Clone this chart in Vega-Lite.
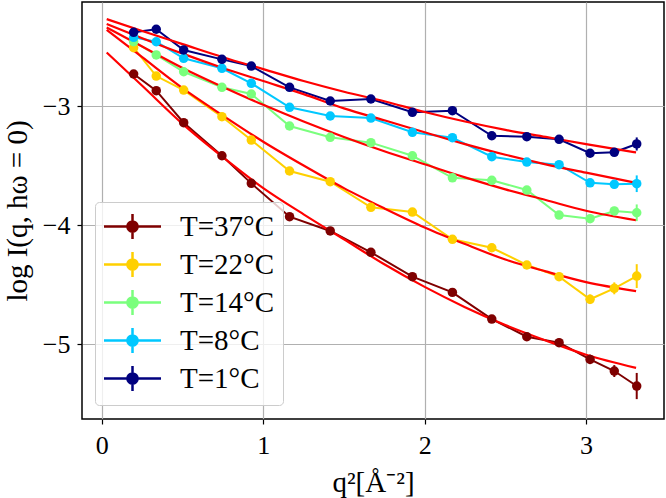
{
  "$schema": "https://vega.github.io/schema/vega-lite/v6.json",
  "width": 582,
  "height": 417,
  "autosize": "none",
  "padding": {"left": 82, "top": 2, "right": 2, "bottom": 79},
  "config": {
    "font": "Liberation Serif",
    "view": {"stroke": "black", "strokeWidth": 1.5},
    "axis": {
      "grid": true, "gridColor": "#b0b0b0", "gridWidth": 1.2, "domain": false,
      "tickColor": "black", "tickSize": 5, "tickWidth": 1.2,
      "labelFont": "Liberation Serif", "labelFontSize": 26, "labelColor": "black",
      "titleFont": "Liberation Serif", "titleFontSize": 29, "titleFontWeight": "normal", "titleColor": "black"
    },
    "legend": {
      "orient": "none", "legendX": 13, "legendY": 200,
      "fillColor": "rgba(255,255,255,0.8)", "strokeColor": "#cccccc", "cornerRadius": 4,
      "padding": 8, "labelFont": "Liberation Serif", "labelFontSize": 29, "labelColor": "black",
      "labelOffset": 31, "rowPadding": 1, "title": null,
      "symbolType": "M-1.9,0H1.9M0,-0.84V0.84M0.34,0A0.34,0.34,0,1,1,-0.34,0A0.34,0.34,0,1,1,0.34,0Z",
      "symbolSize": 900, "symbolStrokeWidth": 2, "symbolOffset": 13
    }
  },
  "datasets": {
    "obs": [
      {"T": "T=37°C", "q2": 0.197, "v": -2.731, "err": 0.015},
      {"T": "T=37°C", "q2": 0.337, "v": -2.871, "err": 0.015},
      {"T": "T=37°C", "q2": 0.507, "v": -3.140, "err": 0.015},
      {"T": "T=37°C", "q2": 0.744, "v": -3.418, "err": 0.015},
      {"T": "T=37°C", "q2": 0.926, "v": -3.650, "err": 0.02},
      {"T": "T=37°C", "q2": 1.163, "v": -3.930, "err": 0.02},
      {"T": "T=37°C", "q2": 1.415, "v": -4.050, "err": 0.02},
      {"T": "T=37°C", "q2": 1.667, "v": -4.229, "err": 0.02},
      {"T": "T=37°C", "q2": 1.924, "v": -4.434, "err": 0.025},
      {"T": "T=37°C", "q2": 2.172, "v": -4.566, "err": 0.025},
      {"T": "T=37°C", "q2": 2.416, "v": -4.790, "err": 0.03},
      {"T": "T=37°C", "q2": 2.633, "v": -4.939, "err": 0.03},
      {"T": "T=37°C", "q2": 2.833, "v": -4.989, "err": 0.035},
      {"T": "T=37°C", "q2": 3.025, "v": -5.129, "err": 0.04},
      {"T": "T=37°C", "q2": 3.175, "v": -5.227, "err": 0.05},
      {"T": "T=37°C", "q2": 3.314, "v": -5.353, "err": 0.11},
      {"T": "T=22°C", "q2": 0.197, "v": -2.510, "err": 0.015},
      {"T": "T=22°C", "q2": 0.337, "v": -2.748, "err": 0.015},
      {"T": "T=22°C", "q2": 0.507, "v": -2.866, "err": 0.015},
      {"T": "T=22°C", "q2": 0.744, "v": -3.090, "err": 0.015},
      {"T": "T=22°C", "q2": 0.926, "v": -3.286, "err": 0.02},
      {"T": "T=22°C", "q2": 1.163, "v": -3.546, "err": 0.02},
      {"T": "T=22°C", "q2": 1.415, "v": -3.636, "err": 0.02},
      {"T": "T=22°C", "q2": 1.667, "v": -3.851, "err": 0.02},
      {"T": "T=22°C", "q2": 1.924, "v": -3.891, "err": 0.025},
      {"T": "T=22°C", "q2": 2.172, "v": -4.120, "err": 0.025},
      {"T": "T=22°C", "q2": 2.416, "v": -4.191, "err": 0.03},
      {"T": "T=22°C", "q2": 2.633, "v": -4.336, "err": 0.03},
      {"T": "T=22°C", "q2": 2.833, "v": -4.434, "err": 0.035},
      {"T": "T=22°C", "q2": 3.025, "v": -4.624, "err": 0.04},
      {"T": "T=22°C", "q2": 3.175, "v": -4.532, "err": 0.05},
      {"T": "T=22°C", "q2": 3.314, "v": -4.429, "err": 0.10},
      {"T": "T=14°C", "q2": 0.197, "v": -2.460, "err": 0.015},
      {"T": "T=14°C", "q2": 0.337, "v": -2.571, "err": 0.015},
      {"T": "T=14°C", "q2": 0.507, "v": -2.712, "err": 0.015},
      {"T": "T=14°C", "q2": 0.744, "v": -2.843, "err": 0.015},
      {"T": "T=14°C", "q2": 0.926, "v": -2.899, "err": 0.02},
      {"T": "T=14°C", "q2": 1.163, "v": -3.168, "err": 0.02},
      {"T": "T=14°C", "q2": 1.415, "v": -3.263, "err": 0.02},
      {"T": "T=14°C", "q2": 1.667, "v": -3.308, "err": 0.02},
      {"T": "T=14°C", "q2": 1.924, "v": -3.418, "err": 0.025},
      {"T": "T=14°C", "q2": 2.172, "v": -3.603, "err": 0.025},
      {"T": "T=14°C", "q2": 2.416, "v": -3.624, "err": 0.03},
      {"T": "T=14°C", "q2": 2.633, "v": -3.706, "err": 0.03},
      {"T": "T=14°C", "q2": 2.833, "v": -3.916, "err": 0.03},
      {"T": "T=14°C", "q2": 3.025, "v": -3.947, "err": 0.03},
      {"T": "T=14°C", "q2": 3.175, "v": -3.882, "err": 0.035},
      {"T": "T=14°C", "q2": 3.314, "v": -3.897, "err": 0.07},
      {"T": "T=8°C", "q2": 0.197, "v": -2.423, "err": 0.015},
      {"T": "T=8°C", "q2": 0.337, "v": -2.460, "err": 0.015},
      {"T": "T=8°C", "q2": 0.507, "v": -2.599, "err": 0.015},
      {"T": "T=8°C", "q2": 0.744, "v": -2.683, "err": 0.015},
      {"T": "T=8°C", "q2": 0.926, "v": -2.809, "err": 0.02},
      {"T": "T=8°C", "q2": 1.163, "v": -3.011, "err": 0.02},
      {"T": "T=8°C", "q2": 1.415, "v": -3.084, "err": 0.02},
      {"T": "T=8°C", "q2": 1.667, "v": -3.101, "err": 0.02},
      {"T": "T=8°C", "q2": 1.924, "v": -3.221, "err": 0.025},
      {"T": "T=8°C", "q2": 2.172, "v": -3.266, "err": 0.025},
      {"T": "T=8°C", "q2": 2.416, "v": -3.426, "err": 0.03},
      {"T": "T=8°C", "q2": 2.633, "v": -3.471, "err": 0.03},
      {"T": "T=8°C", "q2": 2.833, "v": -3.493, "err": 0.03},
      {"T": "T=8°C", "q2": 3.025, "v": -3.645, "err": 0.03},
      {"T": "T=8°C", "q2": 3.175, "v": -3.658, "err": 0.035},
      {"T": "T=8°C", "q2": 3.314, "v": -3.653, "err": 0.07},
      {"T": "T=1°C", "q2": 0.197, "v": -2.381, "err": 0.015},
      {"T": "T=1°C", "q2": 0.337, "v": -2.355, "err": 0.015},
      {"T": "T=1°C", "q2": 0.507, "v": -2.529, "err": 0.015},
      {"T": "T=1°C", "q2": 0.744, "v": -2.608, "err": 0.015},
      {"T": "T=1°C", "q2": 0.926, "v": -2.664, "err": 0.02},
      {"T": "T=1°C", "q2": 1.163, "v": -2.843, "err": 0.02},
      {"T": "T=1°C", "q2": 1.415, "v": -2.958, "err": 0.02},
      {"T": "T=1°C", "q2": 1.667, "v": -2.941, "err": 0.02},
      {"T": "T=1°C", "q2": 1.924, "v": -3.053, "err": 0.025},
      {"T": "T=1°C", "q2": 2.172, "v": -3.039, "err": 0.025},
      {"T": "T=1°C", "q2": 2.416, "v": -3.250, "err": 0.03},
      {"T": "T=1°C", "q2": 2.633, "v": -3.258, "err": 0.03},
      {"T": "T=1°C", "q2": 2.833, "v": -3.280, "err": 0.03},
      {"T": "T=1°C", "q2": 3.025, "v": -3.397, "err": 0.03},
      {"T": "T=1°C", "q2": 3.175, "v": -3.389, "err": 0.03},
      {"T": "T=1°C", "q2": 3.314, "v": -3.319, "err": 0.055}
    ],
    "fit": [
      {"T": "T=37°C", "q2": 0.03, "v": -2.55}, {"T": "T=37°C", "q2": 0.25, "v": -2.83},
      {"T": "T=37°C", "q2": 0.5, "v": -3.15}, {"T": "T=37°C", "q2": 0.75, "v": -3.43},
      {"T": "T=37°C", "q2": 1.0, "v": -3.69}, {"T": "T=37°C", "q2": 1.25, "v": -3.91},
      {"T": "T=37°C", "q2": 1.5, "v": -4.12}, {"T": "T=37°C", "q2": 1.75, "v": -4.33},
      {"T": "T=37°C", "q2": 2.0, "v": -4.52}, {"T": "T=37°C", "q2": 2.25, "v": -4.69},
      {"T": "T=37°C", "q2": 2.5, "v": -4.84}, {"T": "T=37°C", "q2": 2.75, "v": -4.97},
      {"T": "T=37°C", "q2": 3.0, "v": -5.09}, {"T": "T=37°C", "q2": 3.31, "v": -5.20},
      {"T": "T=22°C", "q2": 0.03, "v": -2.36}, {"T": "T=22°C", "q2": 0.25, "v": -2.59},
      {"T": "T=22°C", "q2": 0.5, "v": -2.85}, {"T": "T=22°C", "q2": 0.75, "v": -3.08},
      {"T": "T=22°C", "q2": 1.0, "v": -3.30}, {"T": "T=22°C", "q2": 1.25, "v": -3.50},
      {"T": "T=22°C", "q2": 1.5, "v": -3.69}, {"T": "T=22°C", "q2": 1.75, "v": -3.86},
      {"T": "T=22°C", "q2": 2.0, "v": -4.02}, {"T": "T=22°C", "q2": 2.25, "v": -4.16},
      {"T": "T=22°C", "q2": 2.5, "v": -4.29}, {"T": "T=22°C", "q2": 2.75, "v": -4.39},
      {"T": "T=22°C", "q2": 3.0, "v": -4.48}, {"T": "T=22°C", "q2": 3.31, "v": -4.555},
      {"T": "T=14°C", "q2": 0.03, "v": -2.34}, {"T": "T=14°C", "q2": 0.25, "v": -2.50},
      {"T": "T=14°C", "q2": 0.5, "v": -2.68}, {"T": "T=14°C", "q2": 0.75, "v": -2.84},
      {"T": "T=14°C", "q2": 1.0, "v": -2.99}, {"T": "T=14°C", "q2": 1.25, "v": -3.13},
      {"T": "T=14°C", "q2": 1.5, "v": -3.26}, {"T": "T=14°C", "q2": 1.75, "v": -3.38},
      {"T": "T=14°C", "q2": 2.0, "v": -3.49}, {"T": "T=14°C", "q2": 2.25, "v": -3.60},
      {"T": "T=14°C", "q2": 2.5, "v": -3.70}, {"T": "T=14°C", "q2": 2.75, "v": -3.79},
      {"T": "T=14°C", "q2": 3.0, "v": -3.88}, {"T": "T=14°C", "q2": 3.31, "v": -3.96},
      {"T": "T=8°C", "q2": 0.03, "v": -2.31}, {"T": "T=8°C", "q2": 0.25, "v": -2.43},
      {"T": "T=8°C", "q2": 0.5, "v": -2.56}, {"T": "T=8°C", "q2": 0.75, "v": -2.68},
      {"T": "T=8°C", "q2": 1.0, "v": -2.79}, {"T": "T=8°C", "q2": 1.25, "v": -2.90},
      {"T": "T=8°C", "q2": 1.5, "v": -3.02}, {"T": "T=8°C", "q2": 1.75, "v": -3.12},
      {"T": "T=8°C", "q2": 2.0, "v": -3.22}, {"T": "T=8°C", "q2": 2.25, "v": -3.32},
      {"T": "T=8°C", "q2": 2.5, "v": -3.41}, {"T": "T=8°C", "q2": 2.75, "v": -3.49},
      {"T": "T=8°C", "q2": 3.0, "v": -3.56}, {"T": "T=8°C", "q2": 3.31, "v": -3.645},
      {"T": "T=1°C", "q2": 0.03, "v": -2.27}, {"T": "T=1°C", "q2": 0.25, "v": -2.37},
      {"T": "T=1°C", "q2": 0.5, "v": -2.48}, {"T": "T=1°C", "q2": 0.75, "v": -2.59},
      {"T": "T=1°C", "q2": 1.0, "v": -2.69}, {"T": "T=1°C", "q2": 1.25, "v": -2.79},
      {"T": "T=1°C", "q2": 1.5, "v": -2.88}, {"T": "T=1°C", "q2": 1.75, "v": -2.96},
      {"T": "T=1°C", "q2": 2.0, "v": -3.05}, {"T": "T=1°C", "q2": 2.25, "v": -3.13},
      {"T": "T=1°C", "q2": 2.5, "v": -3.20}, {"T": "T=1°C", "q2": 2.75, "v": -3.26},
      {"T": "T=1°C", "q2": 3.0, "v": -3.32}, {"T": "T=1°C", "q2": 3.31, "v": -3.39}
    ]
  },
  "encoding": {
    "x": {"field": "q2", "type": "quantitative",
      "scale": {"domain": [-0.123, 3.483], "nice": false, "zero": false},
      "axis": {"values": [0, 1, 2, 3], "title": "q²[Å⁻²]", "labelPadding": 8, "titlePadding": 10}},
    "y": {"field": "v", "type": "quantitative",
      "scale": {"domain": [-5.63, -2.126], "nice": false, "zero": false},
      "axis": {"values": [-5, -4, -3], "title": "log I(q, hω = 0)", "labelPadding": 7, "titlePadding": 10}}
  },
  "layer": [
    {
      "data": {"name": "obs"},
      "mark": {"type": "line", "strokeWidth": 2},
      "encoding": {
        "color": {"field": "T", "type": "nominal",
          "scale": {"domain": ["T=37°C", "T=22°C", "T=14°C", "T=8°C", "T=1°C"],
                    "range": ["#7f0000", "#ffd000", "#7aff7d", "#00c8ff", "#00007f"]},
          "legend": {"encode": {"symbols": {"update": {
            "fill": {"scale": "color", "field": "value"},
            "stroke": {"scale": "color", "field": "value"},
            "strokeWidth": {"value": 2.5}, "opacity": {"value": 1}}}}}}
      }
    },
    {
      "data": {"name": "fit"},
      "mark": {"type": "line", "strokeWidth": 2.2, "color": "#ff0000", "interpolate": "monotone"},
      "encoding": {"detail": {"field": "T", "type": "nominal"}}
    },
    {
      "data": {"name": "obs"},
      "mark": {"type": "errorbar", "thickness": 2},
      "encoding": {
        "yError": {"field": "err"},
        "color": {"field": "T", "type": "nominal"}
      }
    },
    {
      "data": {"name": "obs"},
      "mark": {"type": "point", "filled": true, "size": 90, "opacity": 1},
      "encoding": {"color": {"field": "T", "type": "nominal"}}
    }
  ]
}
